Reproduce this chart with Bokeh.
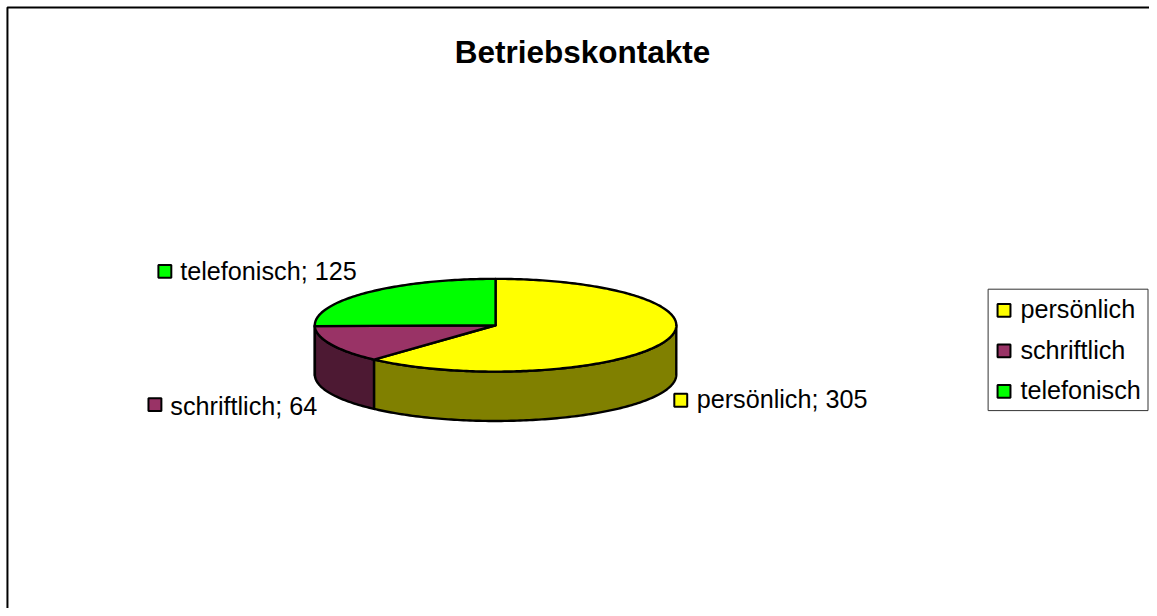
import numpy as np
from bokeh.embed import file_html
from bokeh.resources import INLINE
from bokeh.plotting import figure
from bokeh.core.properties import value

title = "Betriebskontakte"
categories = ["persönlich", "schriftlich", "telefonisch"]
values = [305, 64, 125]
top_colors = ["#FFFF00", "#993366", "#00FF00"]
side_colors = ["#808000", "#4D1933", "#008000"]

W, H = 1157, 616
M = 8
CX, CY, RX, RY, DEPTH = 498.5, 329, 182, 47, 50
FONT = "Liberation Sans"
FS = "25.2px"
LW = 2.4

p = figure(width=W - M, height=H - M, x_range=(0, W), y_range=(H, 0),
           x_axis_location=None, y_axis_location=None, toolbar_location=None,
           output_backend="svg", min_border=0, outline_line_color=None)
p.grid.visible = False
p.background_fill_color = "white"


def arc(a0, a1, dy=0.0):
    t = np.radians(np.linspace(a0, a1, max(int(abs(a1 - a0)), 2) + 1))
    return CX + RX * np.sin(t), CY - RY * np.cos(t) + dy


# outer frame (cut off at the right and bottom of the picture)
p.line([7, 7, W + 5], [H + 5, 7, 7], line_color="black", line_width=2)

angles = 360 * np.cumsum([0] + values) / sum(values)
# side walls: only the front part (90..270 degrees) is visible
for i, c in enumerate(side_colors):
    a0, a1 = max(angles[i], 90), min(angles[i + 1], 270)
    if a1 <= a0:
        continue
    x, y = arc(a0, a1)
    xb, yb = arc(a0, a1, DEPTH)
    p.patch(np.r_[x, xb[::-1]], np.r_[y, yb[::-1]], fill_color=c,
            line_color="black", line_width=LW, line_join="round")

# top faces
for i, c in enumerate(top_colors):
    x, y = arc(angles[i], angles[i + 1])
    p.patch(np.r_[CX, x], np.r_[CY, y], fill_color=c,
            line_color="black", line_width=LW, line_join="round")

p.text([586], [52], text=[title], text_font=value(FONT), text_font_size="31.5px",
       text_font_style="bold", text_align="center", text_baseline="middle", text_color="black")

# data labels
label_sw_x = [685, 155.5, 165.5]
label_sw_y = [405, 409.5, 274.5]
label_tx_x = [701, 171, 181]
label_tx_y = [404, 411, 274]
for i, cat in enumerate(categories):
    p.rect([label_sw_x[i]], [label_sw_y[i]], 13, 13, fill_color=top_colors[i],
           line_color="black", line_width=2)
    p.text([label_tx_x[i]], [label_tx_y[i]], text=[f"{cat}; {values[i]}"],
           text_font=value(FONT), text_font_size=FS, text_baseline="middle", text_color="black")

# legend
p.quad(left=[994.5], right=[1155.5], top=[292.5], bottom=[415.5], fill_color="white",
       line_color="#333333", line_width=1)
legend_y = [313, 354, 395]
for i, cat in enumerate(categories):
    p.rect([1010.5], [legend_y[i] + 1], 13, 13, fill_color=top_colors[i], line_color="black", line_width=2)
    p.text([1027], [legend_y[i]], text=[cat], text_font=value(FONT), text_font_size=FS,
           text_baseline="middle", text_color="black")

open("out.html", "w").write(file_html(p, INLINE))
